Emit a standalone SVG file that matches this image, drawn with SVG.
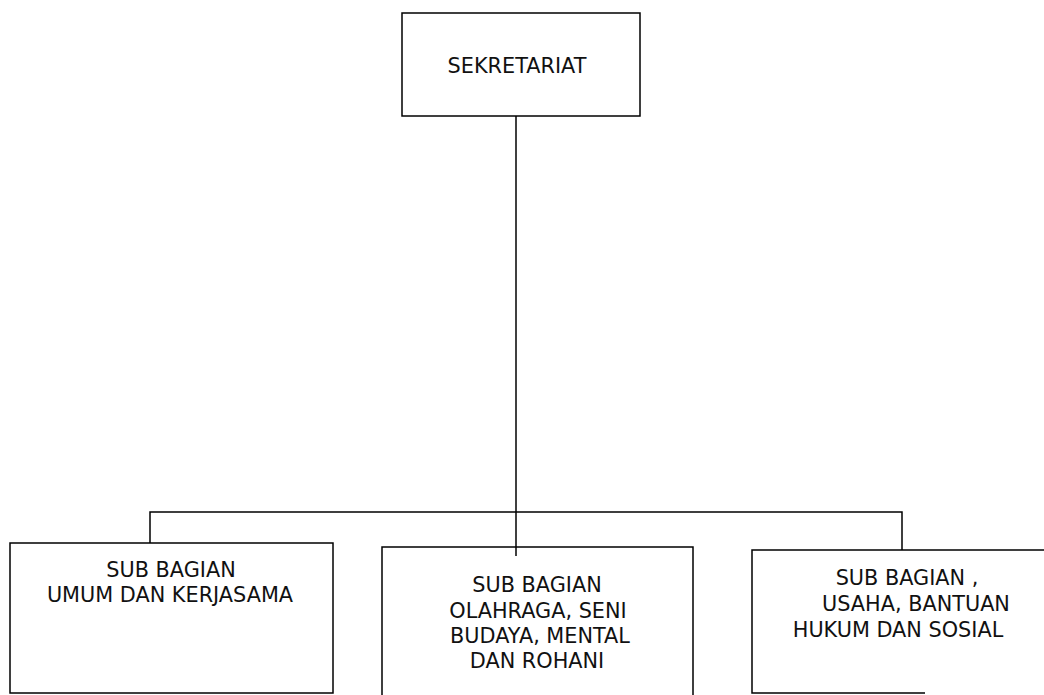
<svg xmlns="http://www.w3.org/2000/svg" width="1044" height="695" viewBox="0 0 1044 695">
<style>
.box{fill:none;stroke:#000;stroke-width:1.5}
.ln{fill:none;stroke:#000;stroke-width:1.5}
.t{font-family:"DejaVu Sans",Verdana,sans-serif;font-size:20.8px;fill:#111;text-anchor:middle}
</style>
<rect width="1044" height="695" fill="#fff"/>
<g id="connectors">
<path class="ln" d="M516,116 V556"/>
<path class="ln" d="M150,543 V512 H902 V550"/>
</g>
<g id="sekretariat">
<rect class="box" x="402" y="13" width="238" height="103"/>
<text class="t" x="517" y="73">SEKRETARIAT</text>
</g>
<g id="umum">
<rect class="box" x="10" y="543" width="323" height="150"/>
<text class="t" x="171" y="577">SUB BAGIAN</text>
<text class="t" x="170" y="602">UMUM DAN KERJASAMA</text>
</g>
<g id="olahraga">
<path class="box" d="M382,695 V547 H693 V695"/>
<text class="t" x="537" y="592">SUB BAGIAN</text>
<text class="t" x="538" y="618">OLAHRAGA, SENI</text>
<text class="t" x="540" y="643">BUDAYA, MENTAL</text>
<text class="t" x="537" y="668">DAN ROHANI</text>
</g>
<g id="usaha">
<path class="box" d="M1044,550 H752 V693 H925"/>
<text class="t" x="907" y="585">SUB BAGIAN ,</text>
<text class="t" x="916" y="611">USAHA, BANTUAN</text>
<text class="t" x="898" y="637">HUKUM DAN SOSIAL</text>
</g>
</svg>
